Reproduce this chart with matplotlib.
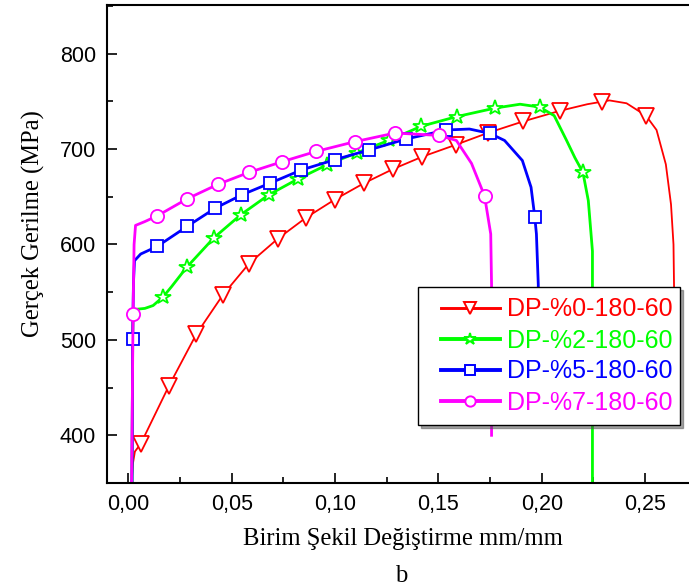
import matplotlib
matplotlib.use("Agg")
import matplotlib.pyplot as plt
from matplotlib.ticker import MultipleLocator, FuncFormatter
from matplotlib.legend_handler import HandlerLine2D
from matplotlib.lines import Line2D

# ---- data ----
labels = ["DP-%0-180-60", "DP-%2-180-60", "DP-%5-180-60", "DP-%7-180-60"]

# DP-%0 curve
x0 = [0.0016, 0.0022, 0.0032, 0.006, 0.0197, 0.0329, 0.0457, 0.0584, 0.0723, 0.0859,
      0.0998, 0.1138, 0.128, 0.1422, 0.1584, 0.174, 0.191, 0.2086, 0.222, 0.2327,
      0.241, 0.2504, 0.2555, 0.260, 0.2625, 0.2637, 0.264, 0.264]
y0 = [350, 370, 383, 391, 452, 506, 547, 580, 606, 628,
      647, 664, 679, 692, 704.5, 717, 729, 740, 747, 751,
      748, 735, 720, 684, 642, 600, 550, 480]
mx0 = [0.006, 0.0197, 0.0329, 0.0457, 0.0584, 0.0723, 0.0859, 0.0998, 0.1138, 0.128,
       0.1422, 0.1584, 0.174, 0.191, 0.2086, 0.229, 0.2504]
my0 = [391, 452, 506, 547, 580, 606, 628, 647, 664, 679,
       692, 704.5, 717, 729, 740, 749, 735]

# DP-%2 curve
x2 = [0.0018, 0.002, 0.0022, 0.0035, 0.008, 0.012, 0.0168, 0.021, 0.0282, 0.0414,
      0.0543, 0.0679, 0.0819, 0.0961, 0.1104, 0.1259, 0.1418, 0.1588, 0.1775, 0.1895,
      0.199, 0.206, 0.212, 0.216, 0.2199, 0.2225, 0.2245, 0.2245, 0.2245]
y2 = [350, 450, 520, 532, 533, 536, 545, 556, 576, 607,
      631, 652, 668.5, 683.5, 696, 709, 724, 734, 743, 747,
      744, 735, 709, 691, 675.5, 646, 593, 500, 350]
mx2 = [0.0168, 0.0282, 0.0414, 0.0543, 0.0679, 0.0819, 0.0961, 0.1104, 0.1259, 0.1418,
       0.1588, 0.1775, 0.199, 0.2199]
my2 = [545, 576, 607, 631, 652, 668.5, 683.5, 696, 709, 724,
       734, 743, 744, 675.5]

# DP-%5 curve
x5 = [0.0018, 0.0021, 0.0025, 0.003, 0.006, 0.014, 0.0285, 0.042, 0.0549, 0.0686,
      0.0836, 0.0998, 0.1163, 0.1343, 0.1539, 0.165, 0.1749, 0.182, 0.1906, 0.1948,
      0.1966, 0.1974, 0.1983, 0.1983]
y5 = [350, 500.6, 560, 583, 590, 598, 619, 638, 652, 664.3,
      678, 688.8, 699, 710.5, 720, 721, 716.4, 709, 688, 660,
      629, 611, 558, 480]
mx5 = [0.0021, 0.014, 0.0285, 0.042, 0.0549, 0.0686, 0.0836, 0.0998, 0.1163, 0.1343,
       0.1539, 0.1749, 0.1966]
my5 = [500.6, 598, 619, 638, 652, 664.3, 678, 688.8, 699, 710.5,
       720, 716.4, 629]

# DP-%7 curve
x7 = [0.0016, 0.002, 0.0023, 0.0028, 0.0035, 0.008, 0.014, 0.0286, 0.0433, 0.0583,
      0.0743, 0.0908, 0.1095, 0.129, 0.1503, 0.1587, 0.166, 0.1723, 0.1753, 0.1757,
      0.1757]
y7 = [350, 450, 527.5, 600, 620, 624, 630, 648, 663, 675.5,
      686.7, 697.5, 707.7, 716.8, 714.3, 709, 685, 651, 611, 558,
      400]
mx7 = [0.0023, 0.014, 0.0286, 0.0433, 0.0583, 0.0743, 0.0908, 0.1095, 0.129, 0.1503,
       0.1723]
my7 = [527.5, 630, 648, 663, 675.5, 686.7, 697.5, 707.7, 716.8, 714.3,
       651]

xticks = [0.00, 0.05, 0.10, 0.15, 0.20, 0.25]
yticks = [400, 500, 600, 700, 800]

# ---- figure ----
W, H = 689, 588
fig = plt.figure(figsize=(W / 100, H / 100), dpi=100)
ax = fig.add_axes([107 / W, 1 - 483 / H, 582 / W, 478 / H])

sans = ["Liberation Sans", "DejaVu Sans"]
serif = ["Liberation Serif", "DejaVu Serif"]

series = [
    (x0, y0, mx0, my0, "#ff0000", "v", 11, 1.3),
    (x2, y2, mx2, my2, "#00ff00", "*", 11.5, 2.0),
    (x5, y5, mx5, my5, "#0000ff", "s", 8.5, 2.0),
    (x7, y7, mx7, my7, "#ff00ff", "o", 9.5, 2.0),
]
handles = []
for (x, y, mx, my, c, m, ms, lw), lab in zip(series, labels):
    ax.plot(x, y, color=c, lw=lw, solid_joinstyle="round")
    ax.plot(mx, my, ls="none", marker=m, ms=ms, mfc="white", mec=c, mew=1.3)
    h, = ax.plot([], [], color=c, lw=lw + 0.8, marker=m, ms=ms * 0.78, mfc="white",
                 mec=c, mew=1.4, label=lab)
    handles.append(h)

ax.set_xlim(-0.0103, 0.2712)
ax.set_ylim(350, 851)
ax.set_xticks(xticks)
ax.set_yticks(yticks)
ax.xaxis.set_minor_locator(MultipleLocator(0.025))
ax.yaxis.set_minor_locator(MultipleLocator(50))
ax.xaxis.set_major_formatter(FuncFormatter(lambda v, p: f"{v:.2f}".replace(".", ",")))
ax.tick_params(which="both", direction="in", width=1.2, top=False, right=False)
ax.tick_params(which="major", length=7, labelsize=15.5, pad=8)
ax.tick_params(which="minor", length=4)
for t in ax.get_xticklabels() + ax.get_yticklabels():
    t.set_family(sans)
for s in ["left", "bottom", "top"]:
    ax.spines[s].set_linewidth(1.5)
ax.spines["right"].set_visible(False)

ax.set_xlabel("Birim Şekil Değiştirme mm/mm", family=serif, fontsize=17.7)
ax.xaxis.set_label_coords((402.5 - 107) / 582, -0.094)
ax.set_ylabel("Gerçek Gerilme (MPa)", family=serif, fontsize=17.7)
ax.yaxis.set_label_coords((45 - 107) / 582, (483 - 224) / 478)
fig.text(401 / W, 1 - 582 / H, "b", family=serif, fontsize=17.7,
         ha="center", va="baseline")

fs_px = 18 * 100 / 72
leg = ax.legend(handles=handles, loc="upper left",
                bbox_to_anchor=(0.534, (483 - 287) / 478, 0.451, 0.0), mode="expand",
                prop={"family": sans, "size": 18}, labelcolor="linecolor",
                frameon=True, fancybox=False, shadow=True, edgecolor="black",
                handlelength=2.85, handletextpad=0.28, labelspacing=0.28,
                borderpad=0.42, numpoints=1, borderaxespad=0,
                handler_map={Line2D: HandlerLine2D(numpoints=1, xpad=0.5)})
leg.get_frame().set_linewidth(1.0)

fig.savefig("out.png", dpi=100)
